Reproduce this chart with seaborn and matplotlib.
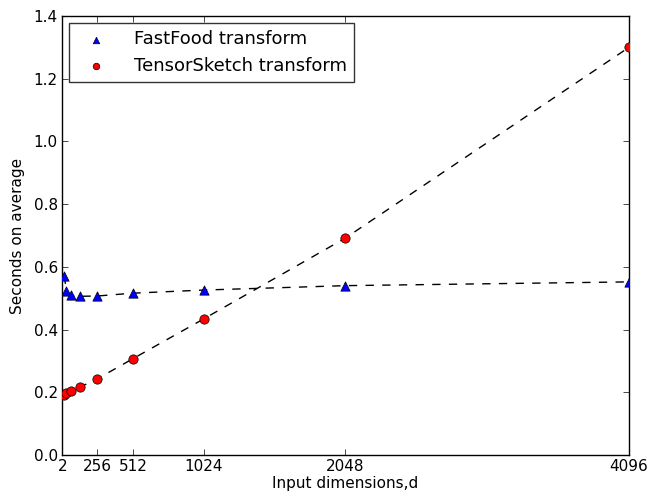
import matplotlib
matplotlib.use("Agg")
import matplotlib.pyplot as plt
import seaborn as sns
import pandas as pd

# data
dims = [16, 32, 64, 128, 256, 512, 1024, 2048, 4096]
fastfood = [0.572, 0.524, 0.509, 0.506, 0.507, 0.516, 0.526, 0.540, 0.552]
tensorsketch = [0.190, 0.197, 0.203, 0.216, 0.243, 0.307, 0.434, 0.692, 1.300]
xticks = [2, 256, 512, 1024, 2048, 4096]
yticks = [0.0, 0.2, 0.4, 0.6, 0.8, 1.0, 1.2, 1.4]

sns.set_style("white")
plt.rcParams['font.family'] = ['DejaVu Sans']
plt.rcParams['text.color'] = 'black'
plt.rcParams['axes.labelcolor'] = 'black'
plt.rcParams['xtick.color'] = 'black'
plt.rcParams['ytick.color'] = 'black'

df_ff = pd.DataFrame({"d": dims, "t": fastfood})
df_ts = pd.DataFrame({"d": dims, "t": tensorsketch})

fig = plt.figure(figsize=(6.52, 4.99), dpi=100)
ax = fig.add_axes([0.0951, 0.0882, 0.8696, 0.8798])

sns.lineplot(data=df_ff, x="d", y="t", ax=ax, color="black", lw=1.0,
             linestyle=(0, (6, 6)), legend=False)
sns.lineplot(data=df_ts, x="d", y="t", ax=ax, color="black", lw=1.0,
             linestyle=(0, (6, 6)), legend=False)
sns.scatterplot(data=df_ff, x="d", y="t", ax=ax, marker="^", color="#0000ff",
                edgecolor="black", linewidth=0.5, s=45, label="FastFood transform", zorder=3)
sns.scatterplot(data=df_ts, x="d", y="t", ax=ax, marker="o", color="#ff0000",
                edgecolor="black", linewidth=0.5, s=45, label="TensorSketch transform", zorder=3)

ax.set_xlim(0, 4096)
ax.set_ylim(0, 1.4)
ax.set_xticks(xticks)
ax.set_xticklabels([str(v) for v in xticks])
ax.set_yticks(yticks)
ax.set_yticklabels([f"{v:.1f}" for v in yticks])
ax.set_xlabel("Input dimensions,d", fontsize=11, labelpad=1)
ax.set_ylabel("Seconds on average", fontsize=11, labelpad=6)
ax.tick_params(direction="in", length=4, width=0.5, top=True, right=True,
               bottom=True, left=True, labelsize=11, pad=3, color="black",
               labelcolor="black")
for s in ax.spines.values():
    s.set_color("black")
    s.set_linewidth(1.0)

leg = ax.legend(loc="upper left", fontsize=13, frameon=True, fancybox=False,
                borderpad=0.4, handletextpad=1.0, borderaxespad=0.4, handlelength=2.2,
                markerscale=0.7, labelspacing=0.45)
leg.get_frame().set_edgecolor("black")
leg.get_frame().set_linewidth(1.0)
for t in leg.get_texts():
    t.set_color("black")

fig.savefig("out.png", dpi=100)
